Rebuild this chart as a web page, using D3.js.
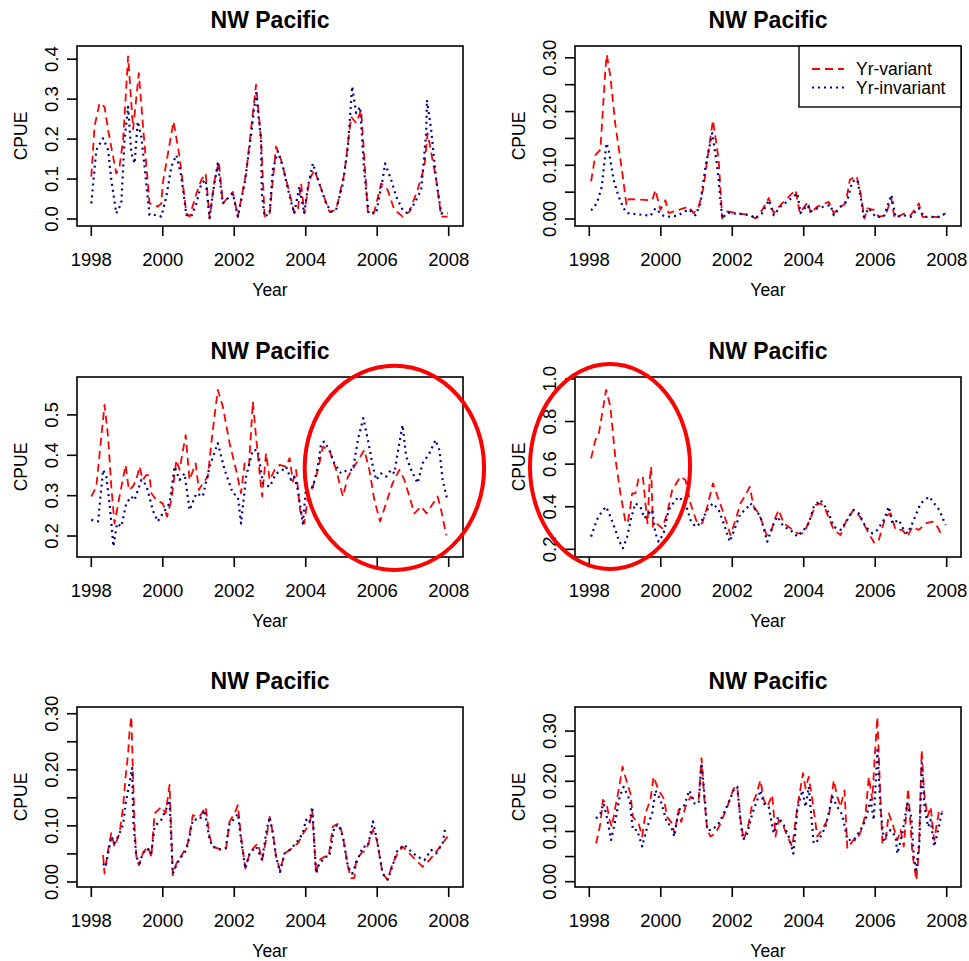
<!DOCTYPE html>
<html>
<head>
<meta charset="utf-8">
<script src="https://cdn.jsdelivr.net/npm/d3@7"></script>
<style>
  body { margin: 0; background: #fff; }
  svg { font-family: "Liberation Sans", Arial, Helvetica, sans-serif; }
</style>
</head>
<body>
<svg width="969" height="961"></svg>
<script>
/* global d3 */

const xTicks = [1998, 2000, 2002, 2004, 2006, 2008];
const seriesNames = ['Yr-variant', 'Yr-invariant'];
const panelTitle = 'NW Pacific';

// y ticks (every tick) and the ones R kept a label for
const p1Ticks = [0, 0.1, 0.2, 0.3, 0.4];
const p2Ticks = [0, 0.05, 0.1, 0.15, 0.2, 0.25, 0.3];
const p3Ticks = [0.2, 0.3, 0.4, 0.5];
const p4Ticks = [0.2, 0.4, 0.6, 0.8, 1.0];
const p5Ticks = [0, 0.05, 0.1, 0.15, 0.2, 0.25, 0.3];
const p6Ticks = [0, 0.05, 0.1, 0.15, 0.2, 0.25, 0.3];
const tenthLabels = [0, 0.1, 0.2, 0.3];

// [year, CPUE]
const p1Variant = [[1998.00,0.106],[1998.09,0.231],[1998.23,0.290],[1998.37,0.281],[1998.47,0.223],[1998.61,0.156],[1998.70,0.114],[1998.79,0.131],[1998.89,0.198],[1999.03,0.407],[1999.17,0.225],[1999.33,0.365],[1999.44,0.240],[1999.63,0.039],[1999.86,0.031],[1999.96,0.039],[2000.00,0.089],[2000.30,0.244],[2000.47,0.156],[2000.66,0.014],[2000.75,0.006],[2000.94,0.064],[2001.08,0.098],[2001.20,0.114],[2001.31,0.002],[2001.45,0.098],[2001.57,0.144],[2001.68,0.039],[2001.96,0.068],[2002.10,0.006],[2002.33,0.114],[2002.61,0.336],[2002.75,0.198],[2002.85,0.006],[2002.99,0.014],[2003.17,0.181],[2003.31,0.148],[2003.55,0.064],[2003.68,0.014],[2003.78,0.023],[2003.87,0.089],[2003.96,0.014],[2004.10,0.098],[2004.24,0.123],[2004.48,0.064],[2004.66,0.018],[2004.85,0.023],[2005.08,0.114],[2005.27,0.256],[2005.41,0.240],[2005.55,0.273],[2005.74,0.014],[2005.92,0.018],[2006.11,0.089],[2006.29,0.073],[2006.48,0.023],[2006.71,0.006],[2006.90,0.018],[2007.13,0.073],[2007.32,0.131],[2007.41,0.215],[2007.65,0.098],[2007.79,0.006],[2007.97,0.006]];
const p1Invariant = [[1998.00,0.039],[1998.14,0.173],[1998.33,0.202],[1998.47,0.173],[1998.56,0.098],[1998.70,0.014],[1998.84,0.039],[1998.93,0.198],[1999.03,0.281],[1999.12,0.165],[1999.21,0.139],[1999.30,0.244],[1999.40,0.206],[1999.49,0.131],[1999.63,0.010],[1999.82,0.010],[1999.96,0.006],[2000.10,0.056],[2000.24,0.131],[2000.38,0.160],[2000.52,0.106],[2000.66,0.010],[2000.80,0.006],[2000.94,0.039],[2001.08,0.089],[2001.20,0.098],[2001.31,0.002],[2001.40,0.064],[2001.54,0.139],[2001.68,0.039],[2001.87,0.056],[2001.96,0.064],[2002.10,0.006],[2002.29,0.089],[2002.43,0.181],[2002.61,0.315],[2002.75,0.198],[2002.77,0.064],[2002.85,0.006],[2002.99,0.014],[2003.08,0.123],[2003.22,0.169],[2003.36,0.131],[2003.55,0.056],[2003.68,0.014],[2003.82,0.081],[2003.96,0.014],[2004.06,0.081],[2004.20,0.139],[2004.38,0.089],[2004.57,0.039],[2004.71,0.018],[2004.85,0.023],[2005.04,0.089],[2005.18,0.181],[2005.30,0.332],[2005.41,0.265],[2005.52,0.281],[2005.64,0.114],[2005.76,0.014],[2005.97,0.014],[2006.15,0.098],[2006.22,0.139],[2006.39,0.098],[2006.53,0.056],[2006.71,0.023],[2006.85,0.014],[2007.04,0.039],[2007.23,0.073],[2007.37,0.215],[2007.39,0.298],[2007.51,0.223],[2007.65,0.098],[2007.79,0.014],[2007.97,0.014]];

const p2Variant = [[1998.05,0.070],[1998.17,0.119],[1998.31,0.129],[1998.45,0.278],[1998.49,0.306],[1998.59,0.265],[1998.73,0.175],[1998.92,0.088],[1999.04,0.026],[1999.10,0.037],[1999.76,0.035],[1999.85,0.054],[1999.99,0.017],[2000.13,0.035],[2000.22,0.011],[2000.78,0.023],[2000.92,0.011],[2001.06,0.023],[2001.20,0.060],[2001.30,0.110],[2001.46,0.184],[2001.62,0.110],[2001.72,0.001],[2001.86,0.014],[2002.51,0.007],[2002.65,0.001],[2002.84,0.017],[2003.02,0.039],[2003.16,0.011],[2003.35,0.026],[2003.77,0.054],[2003.89,0.011],[2004.12,0.032],[2004.19,0.011],[2004.38,0.023],[2004.70,0.032],[2004.84,0.011],[2005.03,0.023],[2005.17,0.029],[2005.29,0.073],[2005.48,0.080],[2005.59,0.048],[2005.70,0.001],[2005.78,0.020],[2005.96,0.017],[2006.10,0.004],[2006.29,0.007],[2006.45,0.039],[2006.54,0.001],[2006.71,0.007],[2006.85,0.011],[2006.99,0.007],[2007.22,0.029],[2007.32,0.004],[2007.83,0.004],[2007.97,0.011]];
const p2Invariant = [[1998.05,0.016],[1998.21,0.029],[1998.35,0.060],[1998.40,0.091],[1998.48,0.141],[1998.54,0.129],[1998.68,0.073],[1998.82,0.042],[1998.96,0.020],[1999.06,0.011],[1999.71,0.006],[1999.85,0.020],[2000.04,0.007],[2000.18,0.004],[2000.46,0.006],[2000.78,0.018],[2000.97,0.007],[2001.11,0.029],[2001.25,0.098],[2001.44,0.160],[2001.58,0.098],[2001.72,0.001],[2001.86,0.012],[2002.51,0.007],[2002.65,0.001],[2002.84,0.011],[2003.02,0.035],[2003.16,0.007],[2003.35,0.023],[2003.72,0.042],[2003.82,0.048],[2003.91,0.011],[2004.10,0.026],[2004.19,0.014],[2004.38,0.020],[2004.75,0.026],[2004.84,0.007],[2005.03,0.023],[2005.22,0.035],[2005.36,0.070],[2005.50,0.073],[2005.59,0.042],[2005.68,0.004],[2005.82,0.020],[2006.01,0.004],[2006.24,0.004],[2006.45,0.045],[2006.57,0.004],[2006.80,0.007],[2006.99,0.004],[2007.22,0.020],[2007.37,0.004],[2007.83,0.004],[2007.97,0.011]];

const p3Variant = [[1998.00,0.298],[1998.14,0.322],[1998.28,0.446],[1998.37,0.525],[1998.47,0.446],[1998.56,0.322],[1998.65,0.231],[1998.79,0.298],[1998.96,0.376],[1999.05,0.314],[1999.16,0.322],[1999.26,0.339],[1999.35,0.372],[1999.44,0.339],[1999.54,0.351],[1999.63,0.351],[1999.68,0.306],[1999.82,0.289],[2000.00,0.281],[2000.12,0.248],[2000.24,0.289],[2000.38,0.388],[2000.47,0.364],[2000.64,0.450],[2000.75,0.339],[2000.92,0.380],[2001.01,0.314],[2001.12,0.331],[2001.26,0.347],[2001.40,0.463],[2001.54,0.562],[2001.68,0.521],[2001.87,0.430],[2002.05,0.364],[2002.19,0.306],[2002.29,0.380],[2002.41,0.372],[2002.52,0.533],[2002.61,0.446],[2002.73,0.339],[2002.78,0.298],[2002.89,0.405],[2002.99,0.339],[2003.13,0.364],[2003.27,0.376],[2003.45,0.372],[2003.55,0.393],[2003.64,0.335],[2003.73,0.364],[2003.84,0.264],[2003.96,0.231],[2004.06,0.298],[2004.20,0.322],[2004.34,0.364],[2004.48,0.421],[2004.66,0.413],[2004.85,0.364],[2005.04,0.298],[2005.18,0.347],[2005.41,0.380],[2005.64,0.413],[2005.78,0.364],[2005.92,0.289],[2006.08,0.236],[2006.25,0.281],[2006.43,0.331],[2006.62,0.364],[2006.76,0.339],[2006.90,0.298],[2007.04,0.256],[2007.23,0.273],[2007.38,0.256],[2007.69,0.298],[2007.79,0.264],[2007.93,0.202]];
const p3Invariant = [[1998.00,0.240],[1998.19,0.236],[1998.33,0.364],[1998.42,0.347],[1998.51,0.281],[1998.62,0.174],[1998.72,0.231],[1998.84,0.223],[1998.98,0.281],[1999.12,0.298],[1999.21,0.289],[1999.40,0.339],[1999.54,0.326],[1999.72,0.264],[1999.86,0.236],[2000.00,0.256],[2000.19,0.281],[2000.33,0.372],[2000.47,0.339],[2000.61,0.355],[2000.75,0.264],[2000.94,0.306],[2001.12,0.298],[2001.31,0.372],[2001.54,0.430],[2001.73,0.364],[2001.96,0.306],[2002.10,0.298],[2002.19,0.231],[2002.33,0.347],[2002.52,0.413],[2002.66,0.413],[2002.80,0.331],[2002.99,0.322],[2003.17,0.355],[2003.36,0.364],[2003.45,0.372],[2003.59,0.339],[2003.68,0.347],[2003.78,0.314],[2003.92,0.231],[2004.01,0.322],[2004.20,0.322],[2004.34,0.372],[2004.43,0.430],[2004.52,0.434],[2004.66,0.413],[2004.80,0.380],[2004.99,0.355],[2005.18,0.364],[2005.32,0.364],[2005.46,0.438],[2005.61,0.492],[2005.74,0.438],[2005.88,0.372],[2005.97,0.339],[2006.11,0.355],[2006.25,0.347],[2006.39,0.364],[2006.48,0.355],[2006.57,0.405],[2006.71,0.475],[2006.81,0.397],[2006.95,0.364],[2007.13,0.331],[2007.27,0.380],[2007.46,0.405],[2007.63,0.438],[2007.74,0.413],[2007.83,0.339],[2007.95,0.293]];

const p4Variant = [[1998.05,0.627],[1998.17,0.713],[1998.26,0.737],[1998.47,0.948],[1998.59,0.870],[1998.73,0.627],[1998.87,0.463],[1999.01,0.330],[1999.07,0.322],[1999.15,0.400],[1999.20,0.463],[1999.29,0.463],[1999.38,0.533],[1999.50,0.541],[1999.57,0.416],[1999.63,0.322],[1999.69,0.526],[1999.73,0.588],[1999.78,0.306],[1999.88,0.322],[2000.04,0.299],[2000.18,0.369],[2000.32,0.479],[2000.55,0.541],[2000.69,0.526],[2000.83,0.416],[2001.02,0.322],[2001.16,0.322],[2001.30,0.400],[2001.46,0.510],[2001.62,0.432],[2001.76,0.369],[2001.95,0.267],[2002.09,0.338],[2002.23,0.416],[2002.37,0.455],[2002.49,0.494],[2002.60,0.400],[2002.74,0.369],[2002.88,0.306],[2002.96,0.267],[2003.07,0.275],[2003.18,0.338],[2003.30,0.385],[2003.44,0.322],[2003.63,0.299],[2003.82,0.275],[2004.00,0.275],[2004.17,0.338],[2004.33,0.408],[2004.47,0.416],[2004.61,0.385],[2004.84,0.291],[2005.03,0.267],[2005.22,0.346],[2005.40,0.385],[2005.57,0.354],[2005.82,0.275],[2005.98,0.228],[2006.10,0.244],[2006.29,0.354],[2006.43,0.369],[2006.57,0.291],[2006.76,0.291],[2006.90,0.260],[2007.04,0.306],[2007.22,0.291],[2007.41,0.322],[2007.60,0.330],[2007.74,0.306],[2007.88,0.260]];
const p4Invariant = [[1998.05,0.260],[1998.21,0.338],[1998.35,0.377],[1998.47,0.400],[1998.59,0.354],[1998.73,0.291],[1998.82,0.244],[1998.94,0.205],[1999.06,0.260],[1999.17,0.346],[1999.29,0.416],[1999.43,0.400],[1999.54,0.346],[1999.66,0.369],[1999.76,0.385],[1999.85,0.275],[1999.94,0.236],[2000.08,0.275],[2000.22,0.385],[2000.38,0.424],[2000.50,0.447],[2000.69,0.416],[2000.83,0.338],[2000.97,0.306],[2001.11,0.322],[2001.30,0.385],[2001.46,0.416],[2001.62,0.385],[2001.76,0.322],[2001.93,0.236],[2002.09,0.306],[2002.23,0.369],[2002.37,0.385],[2002.51,0.416],[2002.65,0.385],[2002.79,0.354],[2002.93,0.267],[2002.98,0.236],[2003.12,0.306],[2003.26,0.354],[2003.44,0.306],[2003.63,0.291],[2003.82,0.260],[2004.00,0.291],[2004.14,0.322],[2004.28,0.400],[2004.47,0.432],[2004.66,0.385],[2004.84,0.306],[2005.03,0.291],[2005.22,0.338],[2005.39,0.385],[2005.54,0.369],[2005.73,0.306],[2005.92,0.275],[2006.06,0.291],[2006.24,0.338],[2006.38,0.400],[2006.48,0.322],[2006.66,0.338],[2006.80,0.291],[2006.90,0.275],[2007.04,0.322],[2007.27,0.416],[2007.51,0.447],[2007.65,0.416],[2007.79,0.385],[2007.97,0.314]];

const p5Variant = [[1998.33,0.048],[1998.37,0.015],[1998.47,0.057],[1998.56,0.087],[1998.65,0.063],[1998.79,0.087],[1998.89,0.134],[1998.96,0.188],[1999.03,0.229],[1999.07,0.268],[1999.12,0.295],[1999.16,0.206],[1999.21,0.099],[1999.26,0.045],[1999.33,0.030],[1999.44,0.051],[1999.58,0.063],[1999.68,0.045],[1999.77,0.122],[1999.96,0.134],[2000.08,0.122],[2000.19,0.173],[2000.28,0.012],[2000.38,0.033],[2000.56,0.051],[2000.70,0.069],[2000.84,0.119],[2001.03,0.116],[2001.20,0.134],[2001.31,0.081],[2001.40,0.063],[2001.54,0.060],[2001.68,0.057],[2001.77,0.060],[2001.87,0.108],[2002.01,0.122],[2002.10,0.137],[2002.19,0.081],[2002.31,0.024],[2002.43,0.051],[2002.57,0.063],[2002.66,0.069],[2002.78,0.039],[2002.89,0.075],[2002.99,0.116],[2003.08,0.087],[2003.17,0.045],[2003.28,0.021],[2003.41,0.051],[2003.55,0.057],[2003.78,0.069],[2003.96,0.090],[2004.10,0.102],[2004.18,0.128],[2004.29,0.015],[2004.38,0.039],[2004.52,0.045],[2004.64,0.045],[2004.76,0.099],[2004.94,0.105],[2005.04,0.081],[2005.18,0.027],[2005.27,0.007],[2005.36,0.007],[2005.41,0.039],[2005.55,0.051],[2005.69,0.057],[2005.88,0.093],[2005.99,0.075],[2006.15,0.015],[2006.29,0.004],[2006.43,0.033],[2006.57,0.051],[2006.71,0.063],[2006.90,0.051],[2007.27,0.027],[2007.46,0.039],[2007.69,0.057],[2007.97,0.081]];
const p5Invariant = [[1998.33,0.033],[1998.40,0.027],[1998.47,0.051],[1998.56,0.081],[1998.65,0.069],[1998.75,0.081],[1998.89,0.102],[1998.96,0.140],[1999.07,0.176],[1999.14,0.203],[1999.18,0.105],[1999.26,0.045],[1999.35,0.033],[1999.44,0.051],[1999.56,0.060],[1999.68,0.051],[1999.77,0.099],[1999.96,0.111],[2000.12,0.134],[2000.19,0.146],[2000.28,0.015],[2000.40,0.033],[2000.52,0.045],[2000.66,0.057],[2000.75,0.081],[2000.84,0.111],[2001.03,0.111],[2001.17,0.128],[2001.31,0.075],[2001.40,0.063],[2001.59,0.058],[2001.76,0.060],[2001.87,0.105],[2002.01,0.113],[2002.10,0.122],[2002.19,0.075],[2002.31,0.024],[2002.43,0.051],[2002.61,0.063],[2002.78,0.039],[2002.89,0.087],[2002.99,0.116],[2003.08,0.087],[2003.17,0.045],[2003.28,0.018],[2003.41,0.051],[2003.55,0.057],[2003.73,0.069],[2003.92,0.087],[2004.01,0.111],[2004.10,0.105],[2004.18,0.134],[2004.29,0.015],[2004.38,0.033],[2004.57,0.045],[2004.66,0.045],[2004.80,0.099],[2004.92,0.102],[2005.04,0.081],[2005.18,0.027],[2005.30,0.015],[2005.41,0.033],[2005.60,0.063],[2005.74,0.063],[2005.88,0.108],[2006.01,0.069],[2006.15,0.015],[2006.29,0.004],[2006.39,0.021],[2006.57,0.057],[2006.76,0.066],[2006.95,0.054],[2007.13,0.045],[2007.32,0.039],[2007.51,0.057],[2007.65,0.051],[2007.83,0.069],[2007.91,0.099]];

const p6Variant = [[1998.19,0.076],[1998.31,0.116],[1998.38,0.163],[1998.48,0.156],[1998.57,0.123],[1998.63,0.109],[1998.73,0.149],[1998.82,0.182],[1998.93,0.229],[1999.06,0.196],[1999.15,0.176],[1999.22,0.129],[1999.38,0.116],[1999.48,0.090],[1999.57,0.136],[1999.71,0.163],[1999.80,0.209],[1999.94,0.182],[2000.08,0.166],[2000.18,0.129],[2000.32,0.116],[2000.38,0.096],[2000.50,0.143],[2000.57,0.119],[2000.69,0.149],[2000.83,0.169],[2000.97,0.163],[2001.06,0.163],[2001.14,0.246],[2001.22,0.163],[2001.30,0.103],[2001.39,0.090],[2001.53,0.096],[2001.67,0.116],[2001.86,0.149],[2002.04,0.186],[2002.14,0.189],[2002.23,0.123],[2002.32,0.083],[2002.46,0.116],[2002.56,0.156],[2002.65,0.169],[2002.79,0.202],[2002.88,0.163],[2002.98,0.149],[2003.12,0.173],[2003.21,0.090],[2003.30,0.123],[2003.44,0.109],[2003.54,0.090],[2003.68,0.070],[2003.82,0.149],[2003.98,0.216],[2004.05,0.186],[2004.14,0.209],[2004.24,0.163],[2004.38,0.090],[2004.56,0.109],[2004.70,0.129],[2004.84,0.202],[2004.94,0.169],[2005.03,0.149],[2005.14,0.182],[2005.22,0.066],[2005.39,0.083],[2005.50,0.083],[2005.64,0.109],[2005.73,0.136],[2005.82,0.209],[2005.92,0.163],[2005.98,0.242],[2006.06,0.328],[2006.13,0.196],[2006.20,0.076],[2006.29,0.083],[2006.38,0.136],[2006.48,0.116],[2006.62,0.083],[2006.71,0.103],[2006.80,0.070],[2006.92,0.186],[2007.04,0.056],[2007.15,0.003],[2007.22,0.056],[2007.30,0.262],[2007.37,0.176],[2007.46,0.129],[2007.55,0.149],[2007.65,0.083],[2007.79,0.143],[2007.88,0.139]];
const p6Invariant = [[1998.19,0.126],[1998.31,0.136],[1998.40,0.156],[1998.49,0.129],[1998.61,0.083],[1998.73,0.123],[1998.85,0.169],[1998.96,0.189],[1999.13,0.163],[1999.22,0.103],[1999.34,0.103],[1999.48,0.070],[1999.62,0.109],[1999.76,0.136],[1999.85,0.182],[1999.99,0.163],[2000.18,0.116],[2000.27,0.113],[2000.38,0.090],[2000.50,0.143],[2000.64,0.149],[2000.80,0.182],[2000.94,0.156],[2001.06,0.156],[2001.14,0.236],[2001.22,0.176],[2001.30,0.103],[2001.44,0.103],[2001.62,0.116],[2001.81,0.143],[2002.04,0.182],[2002.14,0.189],[2002.23,0.123],[2002.30,0.083],[2002.42,0.096],[2002.56,0.136],[2002.70,0.163],[2002.79,0.182],[2002.88,0.156],[2003.02,0.149],[2003.16,0.096],[2003.28,0.129],[2003.44,0.113],[2003.58,0.090],[2003.71,0.056],[2003.82,0.143],[2003.96,0.182],[2004.05,0.149],[2004.14,0.189],[2004.28,0.076],[2004.42,0.083],[2004.61,0.109],[2004.80,0.169],[2004.94,0.149],[2005.08,0.133],[2005.22,0.083],[2005.40,0.083],[2005.59,0.103],[2005.73,0.123],[2005.87,0.163],[2005.96,0.123],[2006.06,0.262],[2006.15,0.143],[2006.24,0.083],[2006.34,0.096],[2006.43,0.103],[2006.57,0.090],[2006.62,0.056],[2006.76,0.096],[2006.90,0.156],[2007.01,0.129],[2007.08,0.050],[2007.15,0.023],[2007.24,0.083],[2007.30,0.236],[2007.38,0.149],[2007.48,0.109],[2007.55,0.123],[2007.65,0.070],[2007.74,0.096],[2007.88,0.143]];

// red rings drawn over panels 3 and 4, in data units: [year, CPUE, half-width in years, half-height in CPUE]
const p3Ring = [2006.48, 0.369, 2.51, 0.253];
const p4Ring = [1998.58, 0.589, 2.24, 0.481];

const boxW = 386;
const boxH = 180;
const xDomain = [1997.6, 2008.4];

const panels = [
  { left: 77, top: 46, variant: p1Variant, invariant: p1Invariant, yDomain: [-0.0175, 0.433], ticks: p1Ticks, labels: p1Ticks, fmt: '.1f' },
  { left: 575, top: 46, variant: p2Variant, invariant: p2Invariant, yDomain: [-0.013, 0.322], ticks: p2Ticks, labels: tenthLabels, fmt: '.2f', legend: true },
  { left: 77, top: 377, variant: p3Variant, invariant: p3Invariant, yDomain: [0.148, 0.594], ticks: p3Ticks, labels: p3Ticks, fmt: '.1f', ring: p3Ring },
  { left: 575, top: 377, variant: p4Variant, invariant: p4Invariant, yDomain: [0.164, 1.009], ticks: p4Ticks, labels: p4Ticks, fmt: '.1f', ring: p4Ring },
  { left: 77, top: 707, variant: p5Variant, invariant: p5Invariant, yDomain: [-0.009, 0.312], ticks: p5Ticks, labels: tenthLabels, fmt: '.2f' },
  { left: 575, top: 707, variant: p6Variant, invariant: p6Invariant, yDomain: [-0.0106, 0.348], ticks: p6Ticks, labels: tenthLabels, fmt: '.2f' }
];

const styles = [
  { color: '#ff0000', dash: '8,5', width: 1.8 },
  { color: '#00008b', dash: '2,4', width: 2.2 }
];

const tickSize = 18.5;
const labSize = 17.5;

const svg = d3.select('svg');
svg.append('rect').attr('width', 969).attr('height', 961).attr('fill', '#fff');

panels.forEach((p) => {
  const x = d3.scaleLinear().domain(xDomain).range([0, boxW]);
  const y = d3.scaleLinear().domain(p.yDomain).range([boxH, 0]);
  const fmt = d3.format(p.fmt);

  const g = svg.append('g').attr('transform', `translate(${p.left},${p.top})`);

  const line = d3.line().x(d => x(d[0])).y(d => y(d[1]));

  [p.variant, p.invariant].forEach((series, i) => {
    g.append('path')
      .datum(series)
      .attr('d', line)
      .attr('fill', 'none')
      .attr('stroke', styles[i].color)
      .attr('stroke-width', styles[i].width)
      .attr('stroke-dasharray', styles[i].dash)
      .attr('stroke-linejoin', 'round');
  });

  g.append('rect')
    .attr('width', boxW).attr('height', boxH)
    .attr('fill', 'none').attr('stroke', '#000').attr('stroke-width', 1.6);

  // x axis
  g.append('g').selectAll('line').data(xTicks).enter().append('line')
    .attr('x1', d => x(d)).attr('x2', d => x(d))
    .attr('y1', boxH).attr('y2', boxH + 10)
    .attr('stroke', '#000').attr('stroke-width', 1.6);
  g.append('g').selectAll('text').data(xTicks).enter().append('text')
    .attr('x', d => x(d)).attr('y', boxH + 40)
    .attr('text-anchor', 'middle').attr('font-size', tickSize)
    .text(d => d);

  // y axis
  g.append('g').selectAll('line').data(p.ticks).enter().append('line')
    .attr('x1', -10).attr('x2', 0)
    .attr('y1', d => y(d)).attr('y2', d => y(d))
    .attr('stroke', '#000').attr('stroke-width', 1.6);
  g.append('g').selectAll('text').data(p.labels).enter().append('text')
    .attr('transform', d => `translate(-19.5,${y(d)}) rotate(-90)`)
    .attr('text-anchor', 'middle').attr('font-size', tickSize)
    .text(d => fmt(d));

  g.append('text')
    .attr('x', boxW / 2).attr('y', -18)
    .attr('text-anchor', 'middle').attr('font-size', 23).attr('font-weight', 'bold')
    .text(panelTitle);
  g.append('text')
    .attr('x', boxW / 2).attr('y', boxH + 70)
    .attr('text-anchor', 'middle').attr('font-size', labSize)
    .text('Year');
  g.append('text')
    .attr('transform', `translate(-50,${boxH / 2}) rotate(-90)`)
    .attr('text-anchor', 'middle').attr('font-size', labSize)
    .text('CPUE');

  if (p.legend) {
    const lw = 162;
    const lg = g.append('g').attr('transform', `translate(${boxW - lw},0)`);
    lg.append('rect').attr('width', lw).attr('height', 61)
      .attr('fill', '#fff').attr('stroke', '#000').attr('stroke-width', 1.4);
    seriesNames.forEach((name, i) => {
      const cy = 23 + i * 18.5;
      lg.append('line')
        .attr('x1', 13).attr('x2', 45).attr('y1', cy).attr('y2', cy)
        .attr('stroke', styles[i].color)
        .attr('stroke-width', styles[i].width)
        .attr('stroke-dasharray', styles[i].dash);
      lg.append('text')
        .attr('x', 57).attr('y', cy + 6)
        .attr('font-size', 17.5)
        .text(name);
    });
  }

  if (p.ring) {
    const [cx, cy, rx, ry] = p.ring;
    g.append('ellipse')
      .attr('cx', x(cx)).attr('cy', y(cy))
      .attr('rx', x(cx + rx) - x(cx)).attr('ry', y(cy) - y(cy + ry))
      .attr('fill', 'none').attr('stroke', '#ff0000').attr('stroke-width', 4);
  }
});
</script>
</body>
</html>
